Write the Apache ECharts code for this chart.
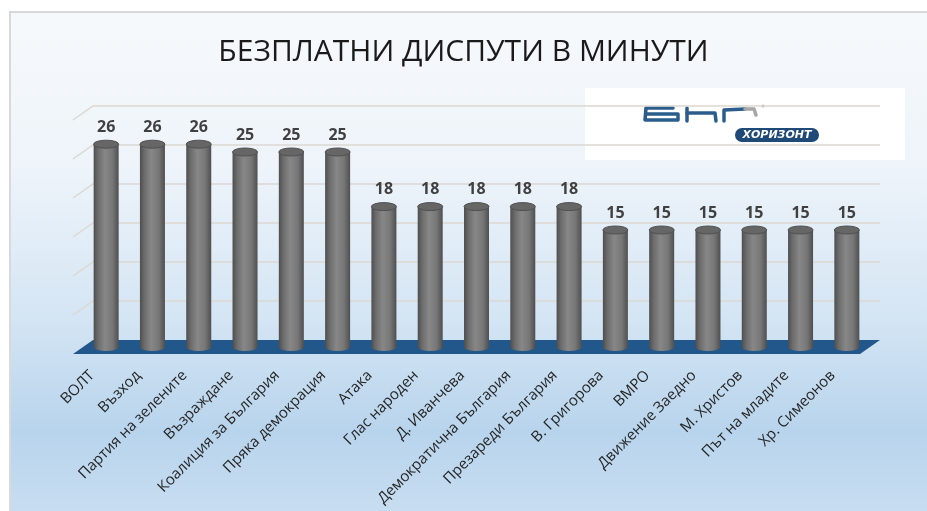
<html>
<head>
    <meta charset="utf-8">
    <title>ECharts</title>
    <script src="https://cdn.jsdelivr.net/npm/echarts@6/dist/echarts.min.js"></script>
    <style>
        html, body { margin: 0; padding: 0; background: #fff; }
    </style>
</head>
<body>
    <div id="main" style="width:927px;height:511px;"></div>
    <script type="text/javascript">
    var categories = ['ВОЛТ', 'Възход', 'Партия на зелените', 'Възраждане', 'Коалиция за България',
        'Пряка демокрация', 'Атака', 'Глас народен', 'Д. Иванчева', 'Демократична България',
        'Презареди България', 'В. Григорова', 'ВМРО', 'Движение Заедно', 'М. Христов',
        'Път на младите', 'Хр. Симеонов'];
    var minutes = [26, 26, 26, 25, 25, 25, 18, 18, 18, 18, 18, 15, 15, 15, 15, 15, 15];
    var gridLevels = [0, 5, 10, 15, 20, 25, 30];

    var myChart = echarts.init(document.getElementById('main'));

    // depth offset for the fake 3D wall / floor
    var dx = 10, dy = 7;

    function renderWall(params, api) {
        var cs = params.coordSys;
        var y = api.coord([0, api.value(1)])[1];
        var l = cs.x, r = cs.x + cs.width;
        if (api.value(1) === 0) {
            return {
                type: 'polygon',
                shape: { points: [[l - dx, y + dy], [l + dx, y - dy], [r + dx, y - dy], [r - dx, y + dy]] },
                style: { fill: '#21578a' }
            };
        }
        return {
            type: 'polyline',
            shape: { points: [[l - dx, y + dy], [l + dx, y - dy], [r + dx, y - dy]] },
            style: { stroke: '#dcd8d2', lineWidth: 1.5, fill: null }
        };
    }

    var bodyFill = new echarts.graphic.LinearGradient(0, 0, 1, 0, [
        { offset: 0, color: '#4e4e4e' },
        { offset: 0.18, color: '#6c6c6c' },
        { offset: 0.45, color: '#878787' },
        { offset: 0.75, color: '#777777' },
        { offset: 1, color: '#4f4f4f' }
    ]);

    function ellipsePath(cx, cy, rx, ry) {
        return 'M' + (cx - rx) + ' ' + cy + ' A' + rx + ' ' + ry + ' 0 1 0 ' + (cx + rx) + ' ' + cy +
            ' A' + rx + ' ' + ry + ' 0 1 0 ' + (cx - rx) + ' ' + cy + ' Z';
    }

    function renderCylinder(params, api) {
        var x = api.coord([api.value(0), 0])[0];
        var base = api.coord([api.value(0), 0])[1];
        var top = api.coord([api.value(0), api.value(1)])[1];
        var rx = 12.5, ry = 4;
        return {
            type: 'group',
            children: [
                { type: 'path', shape: { pathData: ellipsePath(x, base, rx, ry) }, style: { fill: bodyFill } },
                { type: 'rect', shape: { x: x - rx, y: top, width: rx * 2, height: base - top }, style: { fill: bodyFill } },
                { type: 'path', shape: { pathData: ellipsePath(x, top, rx, ry) },
                  style: { fill: '#666666', stroke: '#505050', lineWidth: 1 } },
                { type: 'text', style: {
                    text: String(api.value(1)), x: x, y: top - 9,
                    align: 'center', verticalAlign: 'bottom',
                    font: 'bold 16px "Open Sans"', fill: '#404040' } }
            ]
        };
    }

    var logoLine = { stroke: '#2b5d8c', lineWidth: 3.5, fill: null, lineCap: 'round', lineJoin: 'round' };

    var option = {
        backgroundColor: '#ffffff',
        animation: false,
        title: {
            text: 'БЕЗПЛАТНИ ДИСПУТИ В МИНУТИ',
            left: 'center',
            top: 32,
            textStyle: { fontFamily: 'Open Sans', fontSize: 30, fontWeight: 'normal', color: '#1a1a1a' }
        },
        graphic: [
            {
                type: 'rect', z: -10, silent: true,
                shape: { x: 10, y: 12, width: 930, height: 510 },
                style: {
                    fill: new echarts.graphic.LinearGradient(0, 0, 0, 1, [
                        { offset: 0, color: '#f6f9fc' },
                        { offset: 0.3, color: '#eef4fa' },
                        { offset: 0.6, color: '#d4e5f4' },
                        { offset: 0.82, color: '#b8d4ec' },
                        { offset: 1, color: '#c9def2' }
                    ]),
                    stroke: '#d9d9d9', lineWidth: 2
                }
            },
            {
                type: 'group', z: 10,
                children: [
                    { type: 'rect', shape: { x: 585, y: 88, width: 320, height: 72 }, style: { fill: '#ffffff' } },
                    { type: 'polyline', shape: { points: [[673, 108], [646, 108], [645, 120], [678, 120], [678, 114], [646, 114]] }, style: logoLine },
                    { type: 'polyline', shape: { points: [[687, 108], [687, 121]] }, style: logoLine },
                    { type: 'polyline', shape: { points: [[687, 113], [715, 113], [716, 121]] }, style: logoLine },
                    { type: 'polyline', shape: { points: [[724, 121], [724, 110], [745, 109]] }, style: logoLine },
                    { type: 'polyline', shape: { points: [[745, 109], [754, 109], [756, 115]] },
                      style: { stroke: '#a6a6a6', lineWidth: 3.5, fill: null, lineCap: 'round', lineJoin: 'round' } },
                    { type: 'circle', shape: { cx: 763, cy: 106, r: 1.6 }, style: { fill: '#b0b0b0' } },
                    { type: 'rect', shape: { x: 735, y: 128, width: 84, height: 14, r: 7 }, style: { fill: '#1f4a78' } },
                    { type: 'text', style: { text: 'ХОРИЗОНТ', x: 777, y: 135, align: 'center', verticalAlign: 'middle',
                        font: 'italic bold 11px "DejaVu Sans"', fill: '#ffffff' } }
                ]
            }
        ],
        grid: { left: 83, right: 57, top: 113, bottom: 164 },
        xAxis: {
            type: 'category',
            data: categories,
            axisLine: { show: false },
            axisTick: { show: false },
            axisLabel: {
                rotate: 45, margin: 12, interval: 0,
                formatter: function (v) { return '{a|' + v + '}'; },
                rich: { a: { padding: [0, 20, 0, 0], fontFamily: 'Open Sans', fontSize: 15, color: '#262626' } },
                fontFamily: 'Open Sans', fontSize: 15, color: '#262626'
            }
        },
        yAxis: {
            type: 'value', min: 0, max: 30, interval: 5,
            axisLine: { show: false }, axisTick: { show: false },
            axisLabel: { show: false }, splitLine: { show: false }
        },
        series: [
            {
                type: 'custom', z: 1, silent: true,
                renderItem: renderWall,
                encode: { x: 0, y: 1 },
                data: gridLevels.map(function (v) { return [0, v]; })
            },
            {
                type: 'custom', z: 2,
                renderItem: renderCylinder,
                encode: { x: 0, y: 1 },
                data: minutes.map(function (v, i) { return [i, v]; })
            }
        ]
    };
    myChart.setOption(option);
    </script>
</body>
</html>
